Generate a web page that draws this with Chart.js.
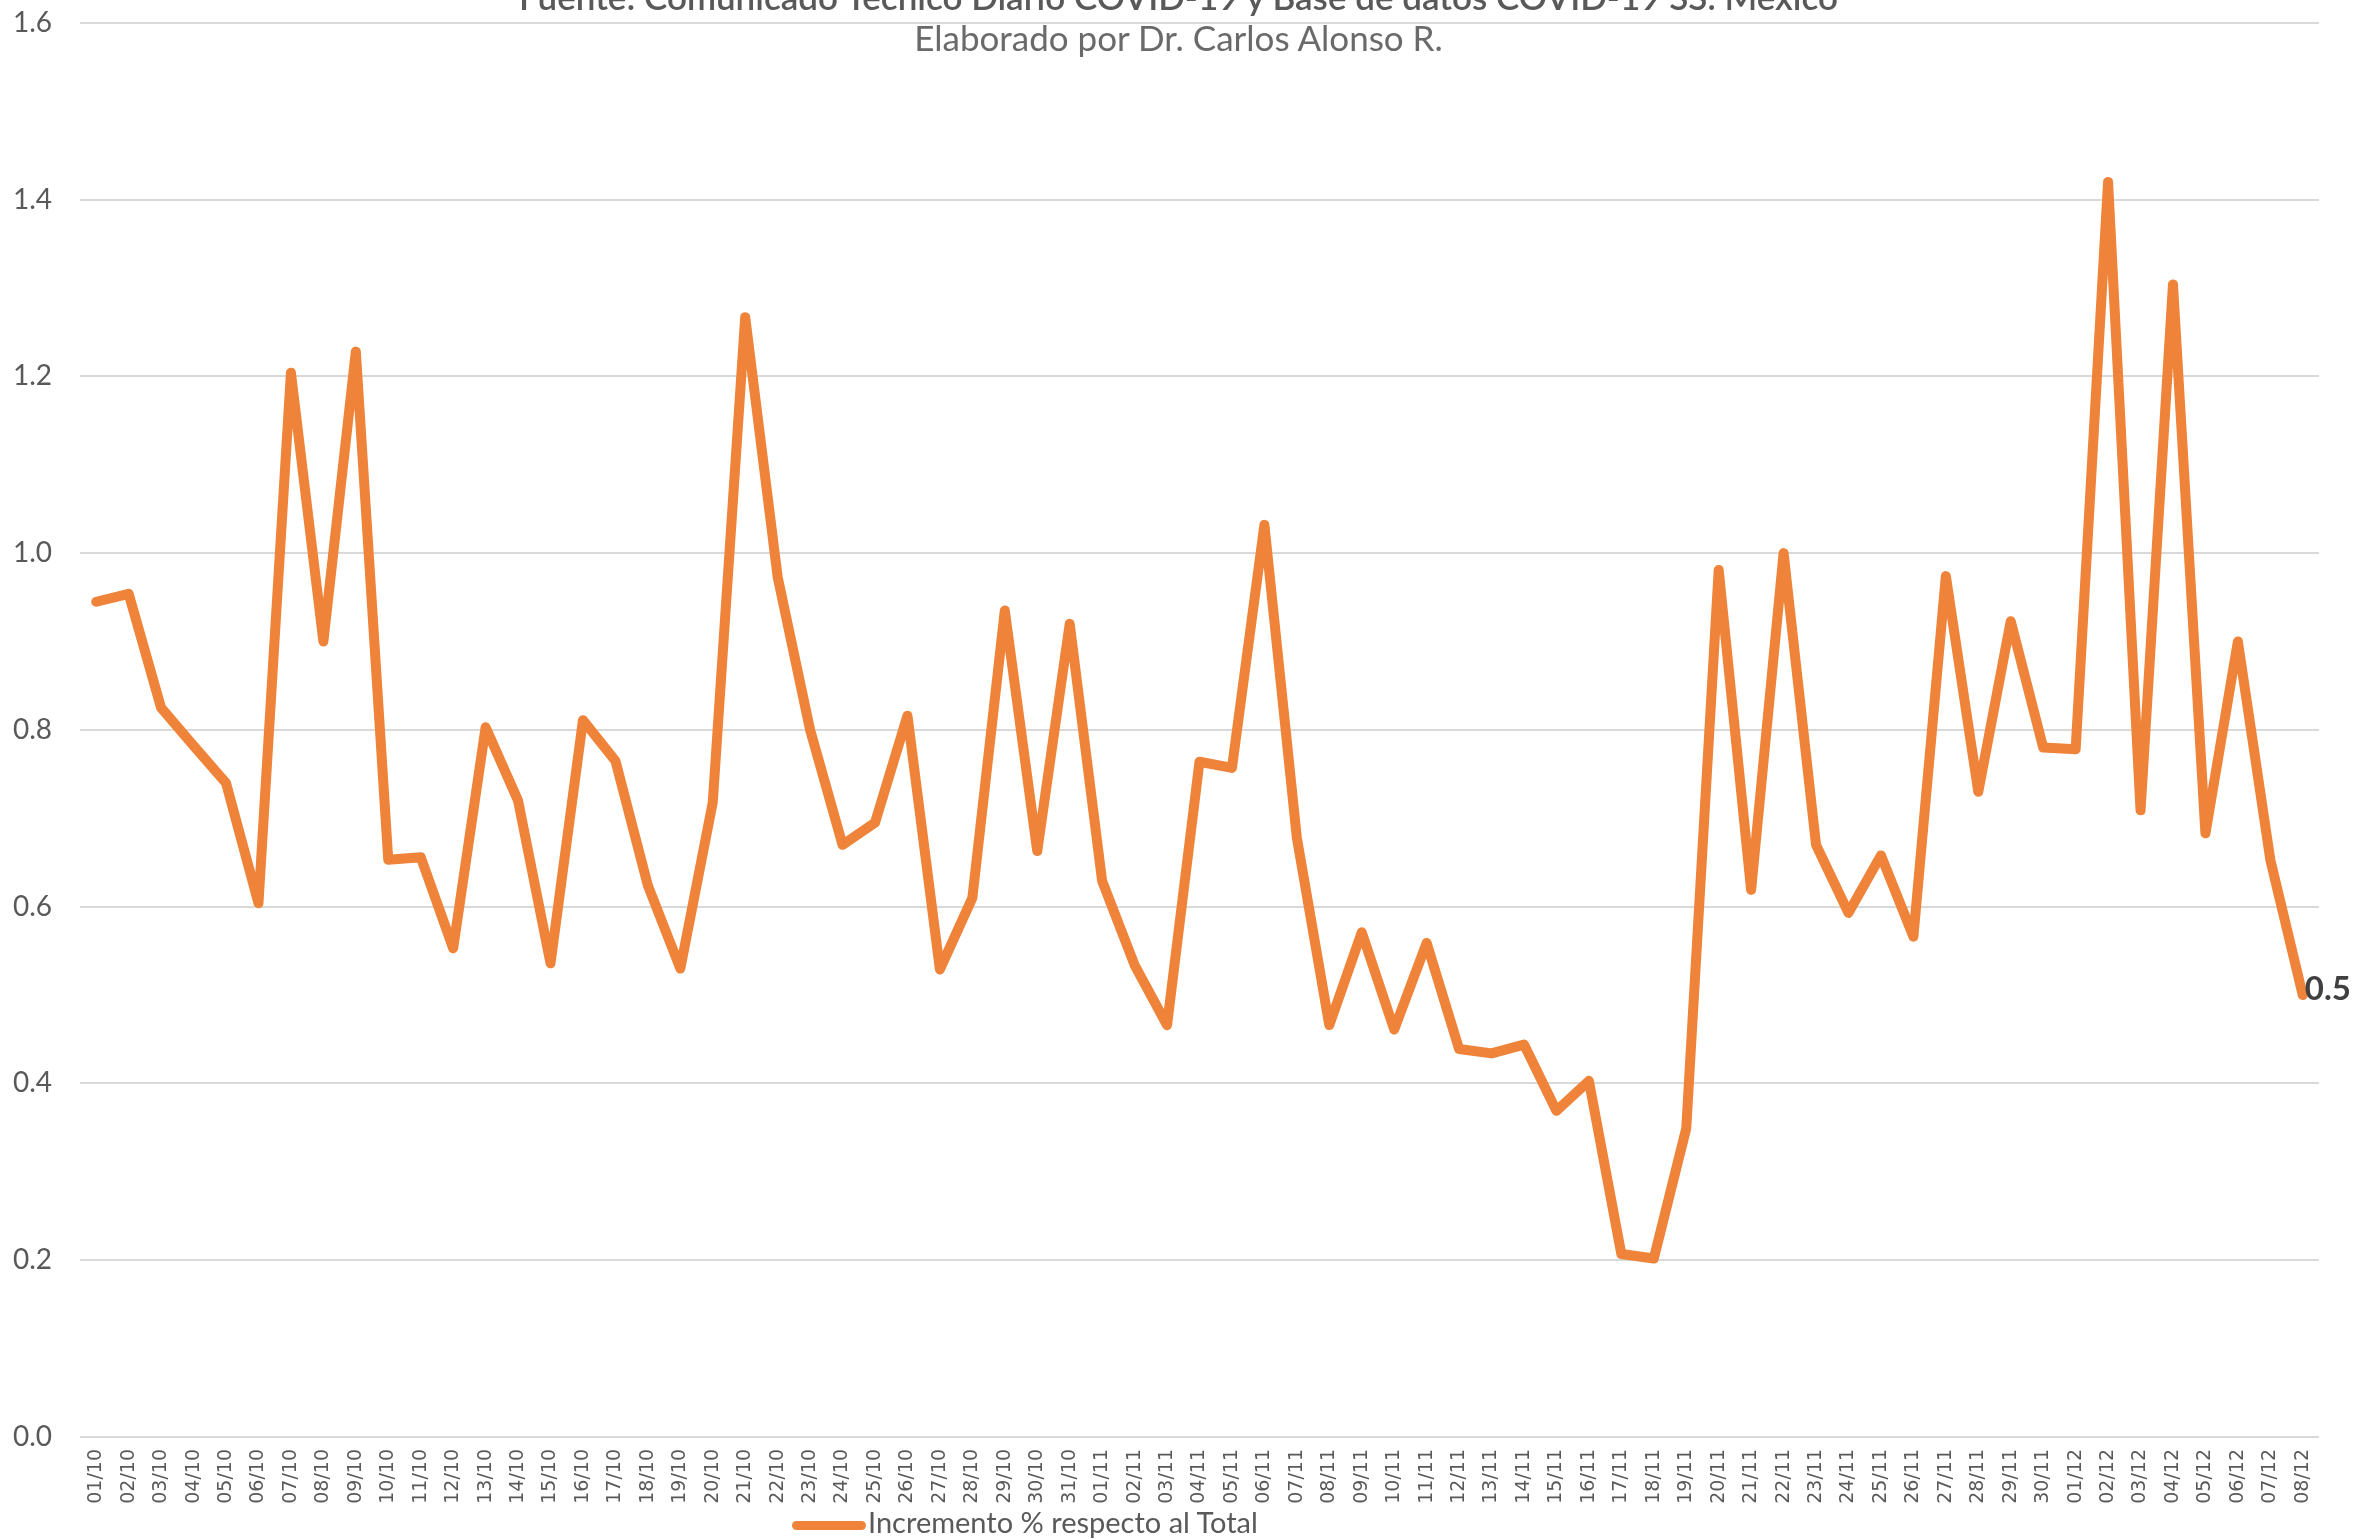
<!DOCTYPE html>
<html lang="es">
<head>
<meta charset="UTF-8"/>
<script src="https://cdn.jsdelivr.net/npm/chart.js"></script>
<style>
  html, body { margin: 0; padding: 0; background: #ffffff; overflow: hidden; }
  #wrap { position: relative; width: 2357px; height: 1539px; overflow: hidden; }
  canvas { display: block; position: absolute; left: 0; top: -22px; }
  #titulo { position: absolute; left: 0; top: 0; width: 2357px; height: 80px; font-family: Lato, sans-serif; color: #595959; }
  #t1 { position: absolute; left: 0; right: 0; top: -24px; font-size: 35px; line-height: 40px; font-weight: 600; text-align: center; }
  #t2 { position: absolute; left: 0; right: 0; top: 17px; font-size: 35px; line-height: 40px; text-align: center; color: #6a6a6a; }
  #leyenda { position: absolute; left: 792px; top: 1505px; font-family: Lato, sans-serif; font-size: 29px; line-height: 34px; color: #595959; white-space: nowrap; }
  #leyenda span.sw { display: inline-block; width: 74px; height: 9px; border-radius: 5px; background: #EE8339; vertical-align: middle; margin-right: 2px; }
</style>
</head>
<body>
<div id="wrap">
  <canvas id="incrementoChart" width="2357" height="1561"></canvas>
  <div id="titulo">
    <div id="t1">Fuente: Comunicado Técnico Diario COVID-19 y Base de datos COVID-19 SS. México</div>
    <div id="t2">Elaborado por Dr. Carlos Alonso R.</div>
  </div>
  <div id="leyenda"><span class="sw"></span>Incremento % respecto al Total</div>
</div>
<script type="application/javascript">
    const fechas = [
        '01/10', '02/10', '03/10', '04/10', '05/10', '06/10', '07/10', '08/10', '09/10', '10/10',
        '11/10', '12/10', '13/10', '14/10', '15/10', '16/10', '17/10', '18/10', '19/10', '20/10',
        '21/10', '22/10', '23/10', '24/10', '25/10', '26/10', '27/10', '28/10', '29/10', '30/10', '31/10',
        '01/11', '02/11', '03/11', '04/11', '05/11', '06/11', '07/11', '08/11', '09/11', '10/11',
        '11/11', '12/11', '13/11', '14/11', '15/11', '16/11', '17/11', '18/11', '19/11', '20/11',
        '21/11', '22/11', '23/11', '24/11', '25/11', '26/11', '27/11', '28/11', '29/11', '30/11',
        '01/12', '02/12', '03/12', '04/12', '05/12', '06/12', '07/12', '08/12'
    ];

    const incremento = [
        0.945, 0.954, 0.825, 0.782, 0.740, 0.604, 1.204, 0.900, 1.228, 0.653,
        0.656, 0.553, 0.803, 0.720, 0.536, 0.811, 0.765, 0.624, 0.530, 0.718,
        1.267, 0.973, 0.800, 0.670, 0.695, 0.816, 0.529, 0.610, 0.935, 0.663, 0.920,
        0.629, 0.534, 0.466, 0.764, 0.757, 1.032, 0.678, 0.466, 0.571, 0.461,
        0.559, 0.439, 0.434, 0.444, 0.369, 0.403, 0.207, 0.202, 0.349, 0.981,
        0.619, 1.000, 0.670, 0.593, 0.658, 0.566, 0.974, 0.730, 0.923, 0.780,
        0.778, 1.420, 0.709, 1.304, 0.683, 0.900, 0.653, 0.500
    ];

    const yTicks = [0, 0.2, 0.4, 0.6, 0.8, 1.0, 1.2, 1.4, 1.6];

    // etiqueta del ultimo valor, a la derecha del punto
    const ultimoValor = {
        id: 'ultimoValor',
        afterDatasetsDraw(chart) {
            const meta = chart.getDatasetMeta(0);
            const pt = meta.data[meta.data.length - 1];
            const ctx = chart.ctx;
            ctx.save();
            ctx.font = 'bold 33px Lato, sans-serif';
            ctx.fillStyle = '#404040';
            ctx.textAlign = 'left';
            ctx.textBaseline = 'middle';
            ctx.fillText(incremento[incremento.length - 1].toFixed(1), pt.x + 2, pt.y - 6);
            ctx.restore();
        }
    };

    const ctx = document.getElementById('incrementoChart');
    const incrementoChart = new Chart(ctx, {
        type: 'line',
        data: {
            labels: fechas,
            datasets: [{
                label: 'Incremento % respecto al Total',
                data: incremento,
                borderColor: '#EE8339',
                backgroundColor: '#EE8339',
                borderWidth: 10,
                borderJoinStyle: 'round',
                borderCapStyle: 'round',
                pointRadius: 0,
                tension: 0
            }]
        },
        options: {
            responsive: false,
            animation: false,
            layout: { padding: { left: 0, right: 38, top: 0, bottom: 0 } },
            plugins: {
                legend: { display: false },
                title: { display: false },
                tooltip: { enabled: false }
            },
            scales: {
                x: {
                    offset: true,
                    grid: { display: false, drawTicks: false },
                    border: { display: false },
                    ticks: {
                        autoSkip: false,
                        maxRotation: 90,
                        minRotation: 90,
                        padding: 12,
                        color: '#595959',
                        font: { family: 'DejaVu Sans', size: 19 }
                    },
                    afterFit(scale) { scale.height = 102; }
                },
                y: {
                    min: 0,
                    max: 1.6,
                    afterBuildTicks(scale) { scale.ticks = yTicks.map(v => ({ value: v })); },
                    grid: { color: '#d9d9d9', lineWidth: 2, drawTicks: false },
                    border: { display: false },
                    ticks: {
                        padding: 28,
                        color: '#595959',
                        font: { family: 'Lato', size: 28 },
                        callback: v => Number(v).toFixed(1)
                    },
                    afterFit(scale) { scale.width = 80; }
                }
            }
        },
        plugins: [ultimoValor]
    });
</script>
</body>
</html>
